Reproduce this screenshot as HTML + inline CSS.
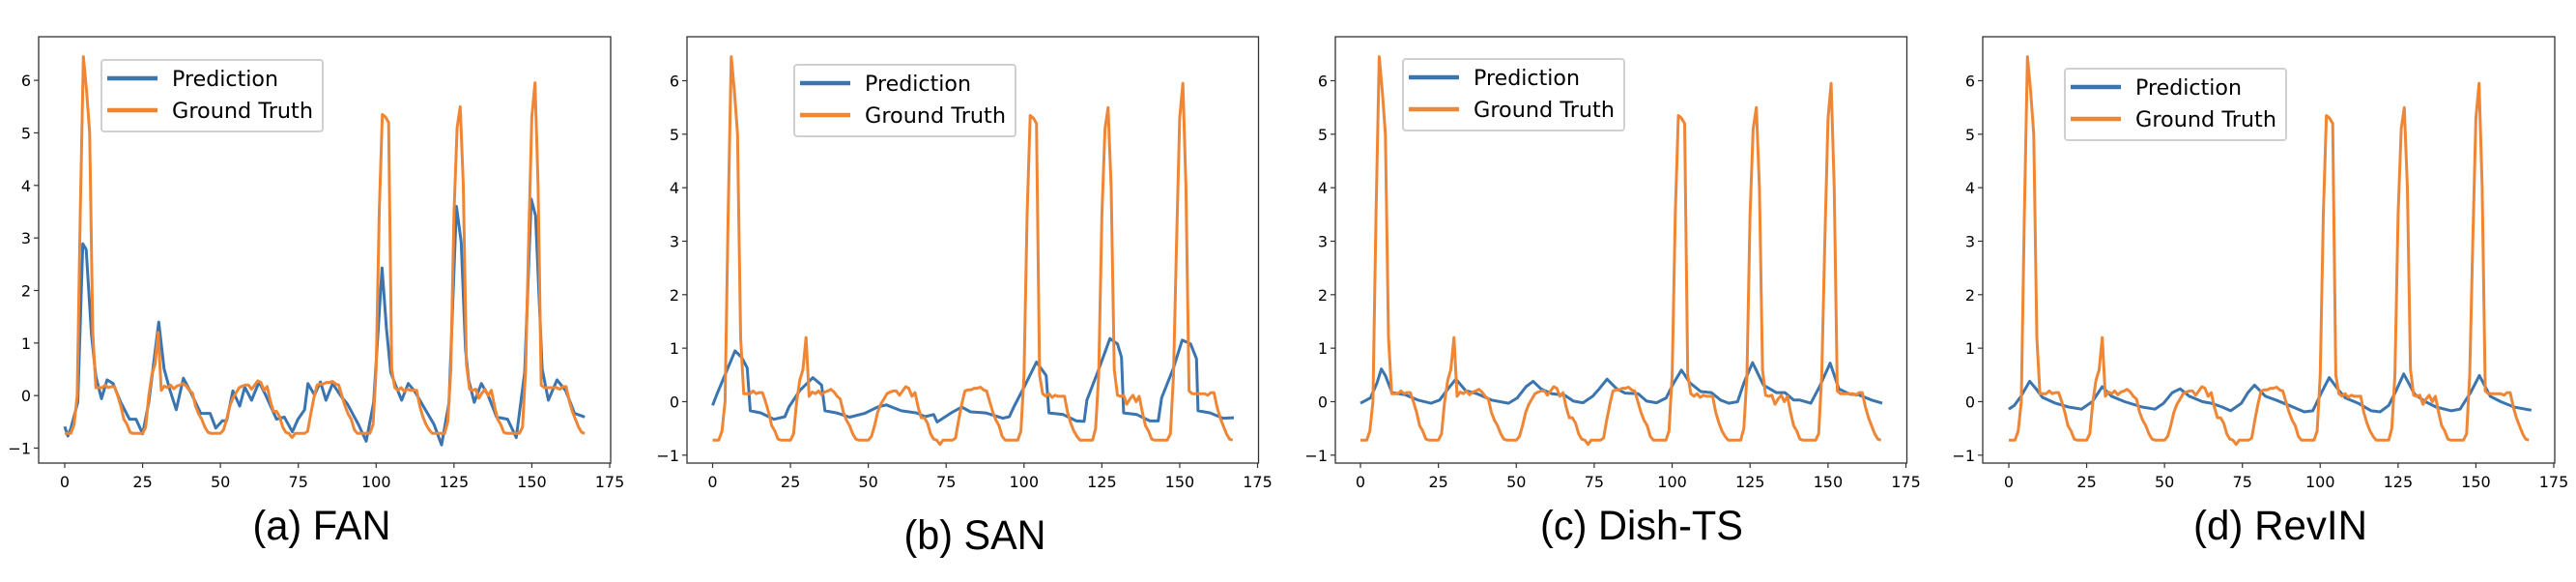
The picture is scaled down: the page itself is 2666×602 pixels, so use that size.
<!DOCTYPE html>
<html><head><meta charset="utf-8"><style>
html,body{margin:0;padding:0;background:#fff;}
svg{display:block;}
</style></head><body>
<svg id="s" width="2666" height="602" xmlns="http://www.w3.org/2000/svg"></svg>
<script>
const GT=[-0.72,-0.72,-0.72,-0.55,0,3.5,6.45,5.8,5.0,1.2,0.15,0.15,0.15,0.2,0.15,0.17,0.17,0.0,-0.2,-0.45,-0.55,-0.7,-0.72,-0.72,-0.72,-0.72,-0.6,0,0.4,0.6,1.2,0.1,0.18,0.15,0.2,0.13,0.18,0.2,0.23,0.18,0.1,0.05,-0.2,-0.35,-0.45,-0.6,-0.7,-0.72,-0.72,-0.72,-0.72,-0.65,-0.45,-0.2,-0.05,0.05,0.15,0.18,0.2,0.2,0.12,0.2,0.28,0.25,0.1,0.17,-0.1,-0.3,-0.3,-0.4,-0.6,-0.7,-0.72,-0.8,-0.72,-0.72,-0.72,-0.72,-0.68,-0.35,-0.05,0.2,0.22,0.22,0.25,0.25,0.27,0.22,0.2,0.0,-0.2,-0.35,-0.45,-0.65,-0.72,-0.72,-0.72,-0.72,-0.72,-0.55,0.5,3.5,5.35,5.3,5.2,0.5,0.15,0.1,0.15,0.08,0.12,0.1,0.1,0.1,-0.2,-0.4,-0.55,-0.65,-0.72,-0.72,-0.72,-0.72,-0.72,-0.5,0.5,3.5,5.1,5.5,4.0,0.6,0.12,0.1,0.12,-0.05,0.05,0.12,0.0,0.1,-0.2,-0.45,-0.55,-0.7,-0.72,-0.72,-0.72,-0.72,-0.72,-0.6,0.5,3.0,5.3,5.95,4.0,0.2,0.15,0.15,0.15,0.15,0.15,0.12,0.17,0.17,-0.1,-0.3,-0.45,-0.6,-0.7,-0.72];
const GTp=GT.map((v,i)=>[i,v]);
const FAN=[[0,-0.59],[1,-0.77],[2,-0.62],[4.2,-0.13],[5.8,2.89],[6.9,2.78],[8.6,1.15],[10,0.37],[11.8,-0.06],[13.6,0.3],[15.5,0.23],[18,-0.13],[20.8,-0.45],[22.9,-0.45],[25,-0.73],[27,-0.13],[30.2,1.4],[31.9,0.51],[33.7,0.12],[35.8,-0.27],[38.1,0.33],[40.9,0.01],[43.7,-0.34],[46.7,-0.34],[48.5,-0.62],[50.6,-0.48],[52,-0.48],[54,0.09],[56.2,-0.2],[57.8,0.16],[60,-0.09],[62.4,0.26],[64.5,0.01],[68,-0.45],[70.5,-0.41],[73.1,-0.69],[74.9,-0.45],[77,-0.27],[78.1,0.23],[80.2,0.01],[82.1,0.26],[83.9,-0.09],[86,0.23],[88.8,-0.02],[90.8,-0.16],[94.3,-0.55],[96.8,-0.87],[99.2,-0.13],[101.9,2.43],[103.3,1.29],[104.7,0.44],[106.5,0.16],[108.2,-0.09],[110.3,0.23],[112.3,0.09],[115.8,-0.27],[118.6,-0.55],[121,-0.94],[123.4,-0.13],[125.8,3.6],[127.3,2.92],[128.7,0.87],[129.7,0.3],[131.5,-0.13],[133.8,0.23],[135.9,0.01],[138.7,-0.41],[142.2,-0.45],[145,-0.8],[147.7,0.44],[149.8,3.74],[151.2,3.42],[153.3,0.51],[155.3,-0.09],[158.1,0.3],[160.9,0.09],[163.7,-0.34],[165.7,-0.38],[167,-0.41]];
const SAN=[[0,-0.07],[1.4,0.14],[4.4,0.56],[7.2,0.95],[9.3,0.83],[11.1,0.63],[12.1,-0.17],[15.5,-0.21],[19.7,-0.33],[23.2,-0.28],[24.5,-0.1],[28,0.21],[32.2,0.45],[35,0.31],[36.1,-0.17],[39.8,-0.21],[44,-0.29],[48.8,-0.22],[53,-0.1],[55.8,-0.06],[60.6,-0.17],[65.5,-0.21],[68.2,-0.28],[71,-0.24],[72.1,-0.38],[76.6,-0.21],[80,-0.1],[82.8,-0.19],[87.7,-0.21],[93.2,-0.31],[95.3,-0.28],[96.7,-0.1],[100.1,0.28],[104,0.74],[107.1,0.49],[108,-0.21],[112.6,-0.24],[116.8,-0.36],[119.3,-0.37],[120.2,0.03],[123.7,0.56],[127.6,1.18],[130,1.08],[131.3,0.83],[132,-0.21],[136.2,-0.24],[140.4,-0.36],[143.1,-0.36],[144.2,0.07],[148,0.63],[150.8,1.15],[153.5,1.08],[155.4,0.8],[155.9,-0.17],[159.8,-0.21],[163.9,-0.31],[167.4,-0.3]];
const DISH=[[0,-0.03],[3.2,0.07],[5.3,0.35],[6.7,0.61],[8,0.49],[10.1,0.17],[14.3,0.13],[18.4,0.03],[22.6,-0.03],[25.4,0.03],[28.1,0.24],[30.6,0.42],[33.7,0.21],[37.8,0.14],[42,0.03],[47.5,-0.03],[50.3,0.07],[53.1,0.28],[55.4,0.38],[57.9,0.24],[61.4,0.15],[65.5,0.12],[68.3,0.01],[71.4,-0.02],[74.5,0.1],[76.6,0.24],[79.1,0.42],[82.2,0.24],[84.9,0.16],[89.1,0.15],[91.8,0.01],[95,-0.02],[98.1,0.07],[100.5,0.35],[103,0.59],[105.7,0.35],[109.2,0.19],[112.6,0.17],[115.5,0.03],[118.2,-0.03],[121,0],[123,0.35],[125.8,0.73],[129.3,0.31],[133.4,0.17],[136.2,0.17],[139,0.03],[141,0.03],[144.5,-0.03],[147.3,0.28],[150.7,0.72],[153.5,0.24],[157,0.14],[159.8,0.13],[164,0.03],[167.4,-0.03]];
const REV=[[0,-0.14],[1.8,-0.07],[3.9,0.1],[6.7,0.38],[8.75,0.24],[10.8,0.08],[15,-0.03],[19.2,-0.1],[23.3,-0.14],[26.8,0],[30,0.28],[33,0.1],[37.2,0],[42.8,-0.1],[46.9,-0.14],[49.7,-0.03],[52.5,0.17],[55,0.24],[58,0.1],[62.2,0],[65,-0.03],[68.5,-0.1],[71.25,-0.17],[74.7,-0.03],[76.8,0.17],[78.9,0.31],[82.4,0.1],[85.8,0.03],[90,-0.07],[94.9,-0.19],[97.6,-0.17],[100.4,0.17],[102.9,0.45],[106,0.21],[108.1,0.07],[112.2,-0.03],[116.4,-0.17],[119.2,-0.19],[122,-0.07],[124.4,0.21],[126.8,0.52],[130.3,0.14],[133.75,0],[137.2,-0.1],[142.1,-0.17],[144.9,-0.14],[148.3,0.17],[151.1,0.49],[154.6,0.1],[158,0],[162.2,-0.1],[167.8,-0.16]];
const panels=[
 {L:40,R:632,x0:67,y6:83.1,ym1:463.5,leg:[105,62],title:"(a) FAN",tx:333,ty:558,tw:143,b:FAN},
 {L:711,R:1302.5,x0:737.5,y6:83.5,ym1:470.8,leg:[822,67],title:"(b) SAN",tx:1009,ty:568,tw:147,b:SAN},
 {L:1382,R:1973.5,x0:1408,y6:83.5,ym1:470.8,leg:[1452,61],title:"(c) Dish-TS",tx:1699,ty:558,tw:210,b:DISH},
 {L:2052,R:2644,x0:2079,y6:83.5,ym1:470.8,leg:[2137,71],title:"(d) RevIN",tx:2360,ty:558,tw:180,b:REV}];
const T=38,B=479;
let h='';
for(const p of panels){
 const xs=(p.R-1-p.x0)/175, ys=(p.ym1-p.y6)/7;
 const X=x=>p.x0+x*xs, Y=v=>p.y6+(6-v)*ys;
 const path=pts=>pts.map((q,i)=>(i?'L':'M')+X(q[0]).toFixed(1)+' '+Y(q[1]).toFixed(1)).join('');
 h+=`<defs><clipPath id="c${p.L}"><rect x="${p.L}" y="${T}" width="${p.R-p.L}" height="${B-T}"/></clipPath></defs>`;
 h+=`<g clip-path="url(#c${p.L})"><path d="${path(p.b)}" fill="none" stroke="#3b75af" stroke-width="3" stroke-linejoin="round"/><path d="${path(GTp)}" fill="none" stroke="#ef8636" stroke-width="3" stroke-linejoin="round"/></g>`;
 h+=`<rect x="${p.L}" y="${T}" width="${p.R-p.L}" height="${B-T}" fill="none" stroke="#333" stroke-width="1.3"/>`;
 for(let v=-1;v<=6;v++){const y=Y(v);h+=`<line x1="${p.L-5}" x2="${p.L}" y1="${y}" y2="${y}" stroke="#333" stroke-width="1.2"/><text x="${p.L-8}" y="${y+6}" text-anchor="end" font-family="DejaVu Sans,sans-serif" font-size="16">${v<0?'\u2212'+(-v):v}</text>`;}
 for(let t=0;t<=175;t+=25){const x=X(t);h+=`<line x1="${x}" x2="${x}" y1="${B}" y2="${B+5}" stroke="#333" stroke-width="1.2"/><text x="${x}" y="${B+25}" text-anchor="middle" font-family="DejaVu Sans,sans-serif" font-size="16">${t}</text>`;}
 const [lx,ly]=p.leg;
 h+=`<rect x="${lx}" y="${ly}" width="229" height="74" rx="3" fill="#fff" fill-opacity="0.85" stroke="#d0d0d0" stroke-width="2"/>`;
 h+=`<line x1="${lx+6}" x2="${lx+58}" y1="${ly+19}" y2="${ly+19}" stroke="#3b75af" stroke-width="4.5"/><line x1="${lx+6}" x2="${lx+58}" y1="${ly+52}" y2="${ly+52}" stroke="#ef8636" stroke-width="4.5"/>`;
 h+=`<text x="${lx+73}" y="${ly+27}" font-family="DejaVu Sans,sans-serif" font-size="22" textLength="110" lengthAdjust="spacingAndGlyphs">Prediction</text>`;
 h+=`<text x="${lx+73}" y="${ly+60}" font-family="DejaVu Sans,sans-serif" font-size="22" textLength="146" lengthAdjust="spacingAndGlyphs">Ground Truth</text>`;
 h+=`<text x="${p.tx}" y="${p.ty}" text-anchor="middle" font-family="Liberation Sans,sans-serif" font-size="43" textLength="${p.tw}" lengthAdjust="spacingAndGlyphs">${p.title}</text>`;
}
document.getElementById('s').innerHTML=h;
</script>
</body></html>
